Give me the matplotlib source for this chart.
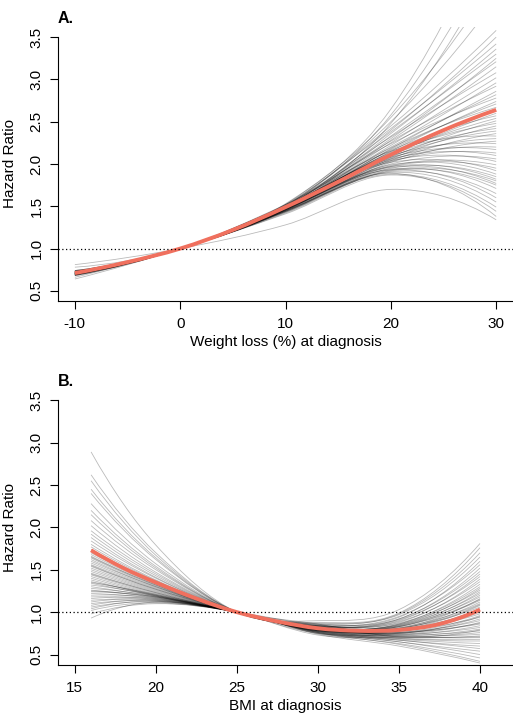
import numpy as np
import matplotlib
matplotlib.use("Agg")
import matplotlib.pyplot as plt
from matplotlib.path import Path
from matplotlib.patches import PathPatch

plt.rcParams['font.family'] = ['Liberation Sans', 'DejaVu Sans']
plt.rcParams['font.size'] = 11
plt.rcParams['axes.unicode_minus'] = False

# ---- panel A: weight loss (%) at diagnosis ----
wl_knots = [-10, 0, 10, 20, 30]
# bootstrap curves, hazard ratio at -10, 10, 20, 30 (HR = 1 at 0)
wl_hr_m10 = [0.70, 0.72, 0.69, 0.71, 0.73,
             0.70, 0.72, 0.68, 0.71, 0.78, 0.70, 0.69,
             0.72, 0.71, 0.70, 0.73, 0.68, 0.72, 0.70, 0.71, 0.69, 0.74,
             0.70, 0.72, 0.71, 0.69, 0.73, 0.70, 0.72, 0.64, 0.71, 0.70,
             0.73, 0.69, 0.72, 0.70, 0.71, 0.74, 0.70,
             0.69, 0.72, 0.71, 0.70, 0.73, 0.68, 0.71, 0.72, 0.70, 0.74,
             0.69, 0.71, 0.72,
             0.70, 0.73, 0.69, 0.71, 0.72, 0.66, 0.70, 0.81]
wl_hr_p10 = [1.52, 1.50, 1.53, 1.49, 1.51,
             1.50, 1.48, 1.52, 1.47, 1.49, 1.50, 1.46,
             1.48, 1.51, 1.47, 1.49, 1.50, 1.46, 1.48, 1.52, 1.45, 1.47,
             1.49, 1.50, 1.46, 1.48, 1.51, 1.47, 1.49, 1.45, 1.50, 1.48,
             1.46, 1.52, 1.47, 1.44, 1.49, 1.48, 1.50,
             1.46, 1.48, 1.45, 1.49, 1.47, 1.44, 1.50, 1.46, 1.43, 1.48,
             1.45, 1.47, 1.42,
             1.46, 1.44, 1.47, 1.43, 1.45, 1.41, 1.44, 1.28]
wl_hr_p20 = [2.65, 2.58, 2.55, 2.48, 2.50,
             2.45, 2.40, 2.42, 2.36, 2.38, 2.30, 2.33,
             2.28, 2.32, 2.25, 2.22, 2.27, 2.18, 2.20, 2.24, 2.15, 2.17,
             2.19, 2.14, 2.10, 2.16, 2.12, 2.08, 2.13, 2.06, 2.11, 2.09,
             2.04, 2.15, 2.07, 2.02, 2.10, 2.05, 2.08,
             2.03, 2.06, 2.00, 2.04, 1.98, 1.97, 2.02, 1.99, 1.95, 1.97,
             1.93, 1.96, 1.92,
             1.94, 1.91, 1.93, 1.90, 1.88, 1.87, 1.89, 1.70]
wl_hr_p30 = [5.00, 4.60, 4.20, 4.40, 3.95,
             3.58, 3.50, 3.42, 3.36, 3.30, 3.25, 3.21,
             3.15, 3.08, 3.02, 2.96, 2.92, 2.86, 2.82, 2.78, 2.74, 2.71,
             2.67, 2.63, 2.60, 2.57, 2.54, 2.51, 2.48, 2.45, 2.42, 2.39,
             2.36, 2.33, 2.30, 2.27, 2.24, 2.20, 2.17,
             2.13, 2.10, 2.06, 2.03, 1.99, 1.95, 1.92, 1.88, 1.85, 1.82,
             1.80, 1.77, 1.75,
             1.71, 1.65, 1.60, 1.55, 1.49, 1.44, 1.38, 1.34]
# fitted curve
wl_fit_x = [-10, -5, 0, 5, 10, 15, 20, 25, 30]
wl_fit_hr = [0.71, 0.84, 1.00, 1.22, 1.49, 1.79, 2.11, 2.40, 2.64]

# ---- panel B: BMI at diagnosis ----
bmi_knots = [16, 20, 25, 30, 35, 40]
# bootstrap curves, hazard ratio at 16, 20, 30, 35, 40 (HR = 1 at 25)
bmi_hr_16 = [2.89, 2.62, 2.55, 2.45, 2.40, 2.28, 2.20, 2.15, 2.08, 2.02,
             1.96, 1.92, 1.88, 1.84, 1.80, 1.77, 1.74, 1.72, 1.70, 1.68,
             1.66, 1.64, 1.62, 1.60, 1.58, 1.56, 1.54, 1.52, 1.50, 1.48,
             1.46, 1.44, 1.42, 1.40, 1.38, 1.36, 1.34, 1.32, 1.30, 1.28,
             1.26, 1.24, 1.22, 1.20, 1.18, 1.16, 1.14, 1.12, 1.10, 1.08,
             1.06, 1.04, 1.02, 0.98, 0.93, 1.45, 1.55, 1.65, 1.35, 1.25]
bmi_hr_20 = [1.79, 1.70, 1.67, 1.64, 1.62, 1.57, 1.54, 1.52, 1.50, 1.47,
             1.45, 1.43, 1.41, 1.40, 1.38, 1.37, 1.36, 1.35, 1.34, 1.33,
             1.32, 1.31, 1.30, 1.30, 1.29, 1.28, 1.27, 1.26, 1.25, 1.24,
             1.23, 1.22, 1.21, 1.20, 1.19, 1.20, 1.19, 1.20, 1.18, 1.19,
             1.17, 1.18, 1.16, 1.17, 1.15, 1.16, 1.14, 1.15, 1.13, 1.14,
             1.12, 1.13, 1.11, 1.10, 1.12, 1.23, 1.27, 1.32, 1.21, 1.18]
bmi_hr_30 = [0.90, 0.88, 0.86, 0.87, 0.85, 0.84, 0.86, 0.83, 0.84, 0.82,
             0.84, 0.83, 0.81, 0.84, 0.82, 0.80, 0.83, 0.81, 0.82, 0.80,
             0.83, 0.81, 0.79, 0.82, 0.80, 0.81, 0.79, 0.82, 0.80, 0.78,
             0.81, 0.79, 0.80, 0.78, 0.81, 0.79, 0.77, 0.80, 0.78, 0.79,
             0.77, 0.79, 0.76, 0.78, 0.77, 0.79, 0.76, 0.78, 0.75, 0.77,
             0.76, 0.75, 0.76, 0.74, 0.85, 0.84, 0.75, 0.86, 0.73, 0.78]
bmi_hr_35 = [1.03, 0.99, 0.98, 0.97, 0.94, 0.95, 0.92, 0.92, 0.90, 0.91,
             0.88, 0.89, 0.86, 0.87, 0.85, 0.86, 0.84, 0.85, 0.83, 0.84,
             0.81, 0.83, 0.80, 0.82, 0.79, 0.81, 0.78, 0.80, 0.77, 0.78,
             0.76, 0.78, 0.75, 0.76, 0.74, 0.76, 0.73, 0.74, 0.72, 0.73,
             0.71, 0.72, 0.70, 0.71, 0.69, 0.69, 0.68, 0.67, 0.67, 0.65,
             0.65, 0.63, 0.62, 0.60, 0.81, 0.75, 0.75, 0.71, 0.70, 0.83]
bmi_hr_40 = [1.81, 1.76, 1.70, 1.65, 1.60, 1.56, 1.52, 1.48, 1.45, 1.42,
             1.39, 1.36, 1.33, 1.30, 1.28, 1.26, 1.24, 1.22, 1.20, 1.18,
             1.16, 1.14, 1.12, 1.10, 1.08, 1.06, 1.04, 1.02, 1.00, 0.98,
             0.96, 0.94, 0.92, 0.90, 0.88, 0.86, 0.84, 0.82, 0.80, 0.78,
             0.76, 0.74, 0.72, 0.70, 0.68, 0.66, 0.63, 0.60, 0.57, 0.54,
             0.50, 0.46, 0.42, 0.40, 1.09, 0.95, 0.87, 0.79, 0.71, 1.15]
bmi_fit_x = [16, 18, 20, 22.5, 25, 27.5, 30, 32.5, 35, 37.5, 40]
bmi_fit_hr = [1.73, 1.52, 1.35, 1.16, 1.00, 0.89, 0.81, 0.78, 0.79, 0.86, 1.03]

GREY = (0, 0, 0, 0.27)
RED = '#F0705E'


def smooth_path(xs, ys):
    """Cubic Bezier path passing through the knots (Hermite tangents)."""
    xs = np.asarray(xs, float)
    ys = np.asarray(ys, float)
    n = len(xs)
    m = np.empty(n)
    m[1:-1] = (ys[2:] - ys[:-2]) / (xs[2:] - xs[:-2])
    m[0] = 2 * (ys[1] - ys[0]) / (xs[1] - xs[0]) - m[1]
    m[-1] = 2 * (ys[-1] - ys[-2]) / (xs[-1] - xs[-2]) - m[-2]
    verts = [(xs[0], ys[0])]
    codes = [Path.MOVETO]
    for i in range(n - 1):
        h = xs[i + 1] - xs[i]
        verts += [(xs[i] + h / 3, ys[i] + m[i] * h / 3),
                  (xs[i + 1] - h / 3, ys[i + 1] - m[i + 1] * h / 3),
                  (xs[i + 1], ys[i + 1])]
        codes += [Path.CURVE4] * 3
    return Path(verts, codes)


def draw_curve(ax, xs, ys, **kw):
    ax.add_patch(PathPatch(smooth_path(xs, ys), fill=False, **kw))


def style_axes(ax, xticks, xlim, xlabel, tag):
    ax.set_xlim(*xlim)
    ax.set_ylim(0.38, 3.62)
    ax.set_xticks(xticks)
    ax.set_yticks([0.5, 1.0, 1.5, 2.0, 2.5, 3.0, 3.5])
    ax.set_yticklabels(['0.5', '1.0', '1.5', '2.0', '2.5', '3.0', '3.5'],
                       rotation=90, va='center')
    for s in ['top', 'right']:
        ax.spines[s].set_visible(False)
    ax.spines['left'].set_bounds(0.38, 3.5)
    for s in ['left', 'bottom']:
        ax.spines[s].set_linewidth(0.8)
    ax.tick_params(length=5.5, width=0.8, labelsize=11)
    ax.tick_params(axis='x', pad=6)
    ax.tick_params(axis='y', pad=5)
    ax.set_ylabel('Hazard Ratio', fontsize=11)
    ax.yaxis.set_label_coords(-0.09, 0.5)
    ax.set_xlabel(xlabel, fontsize=11)
    ax.xaxis.set_label_coords(0.5, -0.125)
    ax.xaxis.label.set_va('top')
    ax.text(0.0, 1.03, tag, transform=ax.transAxes, fontsize=11.5,
            fontweight='bold', ha='left', va='center')


fig = plt.figure(figsize=(5.13, 7.16), dpi=100)
axA = fig.add_axes([0.1131, 0.5796, 0.887, 0.3827])
axB = fig.add_axes([0.1131, 0.0716, 0.887, 0.3837])

# panel A
for a, b, c, d in zip(wl_hr_m10, wl_hr_p10, wl_hr_p20, wl_hr_p30):
    draw_curve(axA, wl_knots, [a, 1.0, b, c, d], edgecolor=GREY, lw=0.6)
axA.axhline(1.0, color='black', lw=0.9, ls=(0, (1, 2)))
draw_curve(axA, wl_fit_x, wl_fit_hr, edgecolor=RED, lw=2.8, capstyle='butt')
style_axes(axA, [-10, 0, 10, 20, 30], (-11.6, 31.6),
           'Weight loss (%) at diagnosis', 'A.')

# panel B
for a, b, c, d, e in zip(bmi_hr_16, bmi_hr_20, bmi_hr_30, bmi_hr_35, bmi_hr_40):
    draw_curve(axB, bmi_knots, [a, b, 1.0, c, d, e], edgecolor=GREY, lw=0.6)
axB.axhline(1.0, color='black', lw=0.9, ls=(0, (1, 2)))
draw_curve(axB, bmi_fit_x, bmi_fit_hr, edgecolor=RED, lw=2.8, capstyle='butt')
style_axes(axB, [15, 20, 25, 30, 35, 40], (13.96, 42.04),
           'BMI at diagnosis', 'B.')

fig.savefig('out.png', dpi=100)
